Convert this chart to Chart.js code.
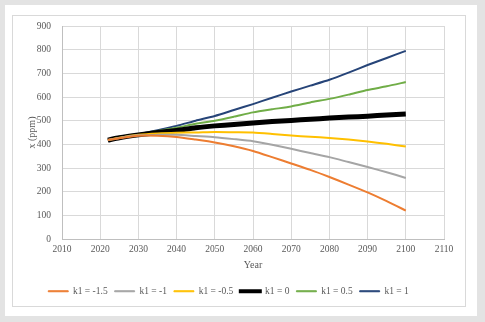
<!DOCTYPE html>
<html>
<head>
<meta charset="utf-8">
<script src="https://cdn.jsdelivr.net/npm/chart.js@4"></script>
<style>
  html, body { margin: 0; padding: 0; background: #e3e3e3; }
  #panel { position: absolute; left: 5px; top: 5px; width: 472px; height: 311px; background: #fff; }
  #box { position: absolute; left: 7px; top: 10px; width: 452px; height: 290px; border: 1px solid #d9d9d9; }
  #chart { display: block; }
</style>
</head>
<body>
<div id="panel"><div id="box"><canvas id="chart" width="452" height="290"></canvas></div></div>
<script>
const years = [2022, 2025, 2030, 2035, 2040, 2045, 2050, 2055, 2060, 2065, 2070, 2075, 2080, 2085, 2090, 2095, 2100];
const seriesNames = ['k1 = -1.5', 'k1 = -1', 'k1 = -0.5', 'k1 = 0', 'k1 = 0.5', 'k1 = 1'];
const kNeg15 = [418, 426, 436, 436, 431, 420, 408, 392, 372, 346, 319, 292, 262, 230, 197, 160, 120];
const kNeg1  = [418, 427, 438, 440, 440, 435, 430, 422, 413, 398, 381, 363, 346, 325, 304, 282, 258];
const kNeg05 = [418, 428, 440, 446, 449, 450, 452, 451, 450, 444, 437, 432, 427, 420, 412, 402, 391];
const k0     = [418, 428, 440, 450, 459, 470, 478, 484, 490, 496, 501, 506, 511, 515, 519, 524, 528];
const k05    = [418, 428, 442, 456, 470, 487, 500, 517, 535, 548, 560, 577, 592, 610, 630, 645, 663];
const k1     = [418, 428, 443, 460, 478, 500, 520, 545, 570, 597, 623, 648, 673, 703, 735, 765, 795];
const colors = ['#ED7D31', '#A5A5A5', '#FFC000', '#000000', '#70AD47', '#264478'];
const widths = [2, 2, 2, 5, 2, 2];

const values = [kNeg15, kNeg1, kNeg05, k0, k05, k1];
const datasets = values.map((vals, i) => ({
    label: seriesNames[i],
    data: vals.map((v, j) => ({ x: years[j], y: v })),
    borderColor: colors[i],
    backgroundColor: colors[i],
    borderWidth: widths[i],
    pointRadius: 0,
    tension: 0.2
}));

const font = { family: 'Liberation Serif', size: 9.5 };
const titleFont = { family: 'Liberation Serif', size: 10 };

new Chart(document.getElementById('chart').getContext('2d'), {
    type: 'line',
    data: { datasets: datasets },
    options: {
        responsive: false,
        animation: false,
        layout: { padding: { left: 0, right: 21, top: 10, bottom: 0 } },
        scales: {
            x: {
                type: 'linear',
                min: 2010, max: 2110,
                ticks: { stepSize: 10, color: '#595959', font: font, padding: 5, callback: v => String(v) },
                grid: { color: '#d9d9d9', drawTicks: false },
                border: { color: '#bfbfbf' },
                title: { display: true, text: 'Year', color: '#595959', font: titleFont, padding: { top: 1, bottom: 8 } },
                afterFit: s => { s.height = 40.5; }
            },
            y: {
                min: 0, max: 900,
                ticks: { stepSize: 100, color: '#595959', font: font, padding: 0 },
                // invisible tick marks keep the labels 11px off the axis
                grid: { color: '#d9d9d9', drawTicks: true, tickLength: 11, tickColor: 'rgba(0,0,0,0)' },
                border: { color: '#bfbfbf' },
                title: { display: true, text: 'x (ppm)', color: '#595959', font: titleFont, padding: { top: 13, bottom: 0 } },
                afterFit: s => { s.width = 49; }
            }
        },
        plugins: {
            legend: {
                position: 'bottom',
                labels: {
                    boxWidth: 20, boxHeight: 1, color: '#595959', font: font, padding: 7,
                    generateLabels: chart => Chart.defaults.plugins.legend.labels.generateLabels(chart).map((l, i) => {
                        l.lineWidth = i === 3 ? 3 : 1;
                        return l;
                    })
                }
            },
            tooltip: { enabled: false }
        }
    }
});
</script>
</body>
</html>
